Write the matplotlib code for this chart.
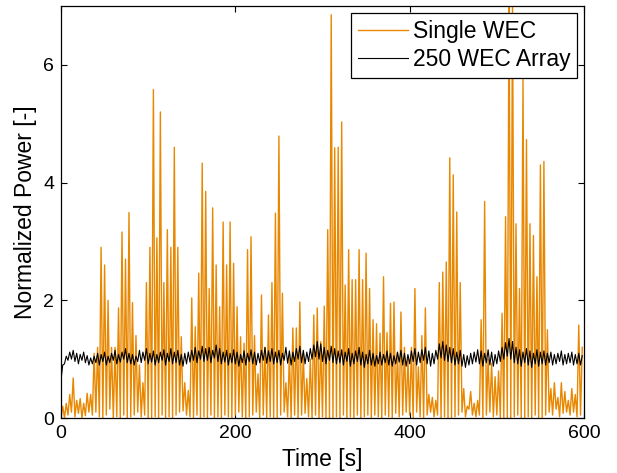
import numpy as np
import matplotlib
matplotlib.use('Agg')
import matplotlib.pyplot as plt

# Single WEC: one peak and one trough per 4 s slot
single_peaks = [
    0.2, 0.25, 0.4, 0.68, 0.3, 0.33, 0.25, 0.42, 0.4, 1.1,
    1.2, 2.9, 2.6, 2.0, 1.2, 1.2, 1.87, 3.16, 2.7, 3.49,
    1.96, 1.4, 0.9, 0.6, 2.3, 2.9, 5.58, 3.06, 5.2, 2.3,
    3.2, 2.9, 4.6, 2.9, 1.38, 0.6, 0.47, 2.04, 1.55, 2.46,
    4.33, 3.85, 2.2, 3.57, 2.6, 1.89, 3.33, 2.6, 3.33, 2.63,
    1.89, 1.38, 1.27, 2.86, 3.08, 1.4, 0.75, 2.09, 1.2, 1.75,
    2.3, 3.48, 4.79, 2.12, 0.6, 1.07, 1.53, 1.53, 1.97, 1.1,
    0.67, 1.0, 1.75, 1.87, 1.3, 1.9, 3.2, 6.85, 4.59, 4.6,
    5.03, 2.26, 2.86, 2.35, 2.35, 2.86, 2.35, 2.8, 2.2, 1.67,
    1.6, 1.44, 2.4, 1.45, 1.95, 1.97, 1.1, 1.8, 1.2, 1.0,
    1.2, 2.2, 0.87, 1.4, 1.87, 0.4, 0.35, 0.3, 2.3, 2.48,
    2.65, 4.42, 4.13, 3.5, 2.3, 0.5, 0.2, 0.45, 0.25, 0.3,
    1.67, 3.68, 1.0, 0.93, 0.7, 0.8, 1.78, 3.42, 7.2, 7.1,
    3.3, 2.2, 5.75, 4.73, 3.3, 3.1, 2.4, 4.3, 4.36, 1.5,
    0.5, 0.6, 0.35, 0.6, 0.45, 0.3, 0.5, 0.4, 1.58, 1.2,
]
single_troughs = [
    0.02, 0.0, 0.05, 0.1, 0.02, 0.08, 0.0, 0.04, 0.1, 0.05,
    0.1, 0.02, 0.0, 0.05, 0.15, 0.0, 0.02, 0.0, 0.05, 0.0,
    0.02, 0.05, 0.1, 0.02, 0.05, 0.0, 0.0, 0.02, 0.0, 0.05,
    0.0, 0.02, 0.0, 0.05, 0.1, 0.12, 0.05, 0.02, 0.0, 0.05,
    0.0, 0.02, 0.0, 0.05, 0.0, 0.02, 0.0, 0.05, 0.02, 0.0,
    0.05, 0.1, 0.02, 0.0, 0.02, 0.05, 0.1, 0.0, 0.05, 0.0,
    0.02, 0.0, 0.0, 0.05, 0.1, 0.02, 0.0, 0.05, 0.0, 0.05,
    0.08, 0.02, 0.0, 0.05, 0.0, 0.02, 0.0, 0.0, 0.0, 0.02,
    0.0, 0.05, 0.0, 0.02, 0.0, 0.05, 0.0, 0.02, 0.05, 0.0,
    0.05, 0.02, 0.0, 0.05, 0.02, 0.0, 0.08, 0.02, 0.05, 0.1,
    0.05, 0.0, 0.1, 0.02, 0.0, 0.05, 0.1, 0.02, 0.05, 0.0,
    0.02, 0.0, 0.0, 0.02, 0.05, 0.1, 0.02, 0.15, 0.05, 0.02,
    0.05, 0.0, 0.05, 0.1, 0.02, 0.05, 0.0, 0.0, 0.0, 0.0,
    0.02, 0.05, 0.0, 0.0, 0.02, 0.0, 0.05, 0.0, 0.0, 0.05,
    0.1, 0.05, 0.15, 0.02, 0.08, 0.1, 0.05, 0.1, 0.02, 0.05,
]

# 250 WEC array: high and low per 4 s slot
array_highs = [
    0.9, 1.05, 1.12, 1.15, 1.1, 1.08, 1.12, 1.06, 1.02, 1.05,
    1.1, 1.08, 1.12, 1.05, 1.1, 1.15, 1.08, 1.12, 1.18, 1.1,
    1.08, 1.05, 1.15, 1.12, 1.18, 1.1, 1.14, 1.08, 1.12, 1.16,
    1.1, 1.18, 1.12, 1.15, 1.08, 1.1, 1.12, 1.15, 1.2, 1.14,
    1.22, 1.18, 1.2, 1.15, 1.24, 1.18, 1.12, 1.15, 1.1, 1.16,
    1.12, 1.08, 1.14, 1.1, 1.16, 1.12, 1.1, 1.15, 1.2, 1.14,
    1.18, 1.12, 1.15, 1.1, 1.2, 1.14, 1.12, 1.18, 1.22, 1.15,
    1.12, 1.18, 1.24, 1.3, 1.26, 1.2, 1.15, 1.22, 1.18, 1.14,
    1.16, 1.12, 1.18, 1.1, 1.14, 1.2, 1.12, 1.08, 1.15, 1.1,
    1.06, 1.12, 1.08, 1.14, 1.1, 1.06, 1.12, 1.15, 1.1, 1.08,
    1.14, 1.18, 1.12, 1.16, 1.2, 1.14, 1.1, 1.15, 1.26, 1.3,
    1.24, 1.2, 1.18, 1.12, 1.15, 1.08, 1.06, 1.1, 1.12, 1.16,
    1.14, 1.1, 1.16, 1.12, 1.08, 1.14, 1.2, 1.28, 1.35, 1.3,
    1.2, 1.16, 1.12, 1.18, 1.14, 1.1, 1.16, 1.12, 1.14, 1.1,
    1.12, 1.08, 1.1, 1.14, 1.08, 1.1, 1.12, 1.08, 1.1, 1.06,
]
array_lows = [
    0.65, 0.92, 0.98, 1.0, 0.96, 0.92, 0.98, 0.94, 0.9, 0.92,
    0.94, 0.9, 0.96, 0.9, 0.94, 0.98, 0.92, 0.95, 1.0, 0.94,
    0.92, 0.9, 0.96, 0.94, 0.98, 0.92, 0.95, 0.9, 0.94, 0.98,
    0.9, 0.96, 0.92, 0.94, 0.9, 0.88, 0.92, 0.95, 0.98, 0.94,
    1.0, 0.96, 0.98, 0.94, 1.02, 0.96, 0.92, 0.95, 0.9, 0.94,
    0.92, 0.88, 0.94, 0.9, 0.96, 0.92, 0.9, 0.94, 0.98, 0.93,
    0.96, 0.92, 0.94, 0.9, 0.98, 0.93, 0.9, 0.96, 1.0, 0.94,
    0.92, 0.96, 1.0, 1.04, 1.0, 0.96, 0.92, 0.98, 0.94, 0.92,
    0.94, 0.9, 0.96, 0.88, 0.92, 0.96, 0.9, 0.86, 0.92, 0.9,
    0.88, 0.92, 0.9, 0.94, 0.9, 0.88, 0.92, 0.95, 0.9, 0.88,
    0.92, 0.96, 0.9, 0.94, 0.98, 0.92, 0.88, 0.92, 1.0, 1.02,
    0.98, 0.96, 0.94, 0.9, 0.92, 0.88, 0.86, 0.9, 0.92, 0.95,
    0.92, 0.88, 0.94, 0.9, 0.88, 0.92, 0.96, 1.0, 1.05, 1.0,
    0.94, 0.92, 0.88, 0.94, 0.9, 0.86, 0.92, 0.88, 0.92, 0.9,
    0.94, 0.9, 0.92, 0.96, 0.9, 0.92, 0.94, 0.9, 0.92, 0.9,
]

x_ticks = [0, 200, 400, 600]
y_ticks = [0, 2, 4, 6]


def interleave(lows, highs):
    out = np.empty(2 * len(lows))
    out[0::2] = lows
    out[1::2] = highs
    return out


single = interleave(single_troughs, single_peaks)
array = interleave(array_lows, array_highs)
t = np.arange(len(single)) * 2.0

plt.rcParams['font.family'] = ['Liberation Sans', 'DejaVu Sans']

fig = plt.figure(figsize=(6.17, 4.73), dpi=100)
ax = fig.add_axes([61 / 617, 55 / 473, 523 / 617, 412 / 473])

ax.plot(t, single, color='#E88700', lw=1.0, label='Single WEC')
ax.plot(t, array, color='black', lw=0.8, label='250 WEC Array')

ax.set_xlim(0, 600)
ax.set_ylim(0, 7)
ax.set_xticks(x_ticks)
ax.set_yticks(y_ticks)
ax.tick_params(direction='in', length=4.5, width=0.8, top=True, right=True,
               labelsize=14, pad=5)
for s in ax.spines.values():
    s.set_linewidth(0.9)

ax.set_xlabel('Time [s]', fontsize=16.5, labelpad=4)
ax.set_ylabel('Normalized Power [-]', fontsize=16.5, labelpad=4)

leg = ax.legend(loc='upper right', fontsize=16.5, fancybox=False,
                framealpha=1, edgecolor='black', handlelength=2.2,
                handletextpad=0.2, labelspacing=0.25, borderpad=0.3,
                borderaxespad=0.3)
leg.get_frame().set_linewidth(0.9)

fig.savefig('out.png', dpi=100)
